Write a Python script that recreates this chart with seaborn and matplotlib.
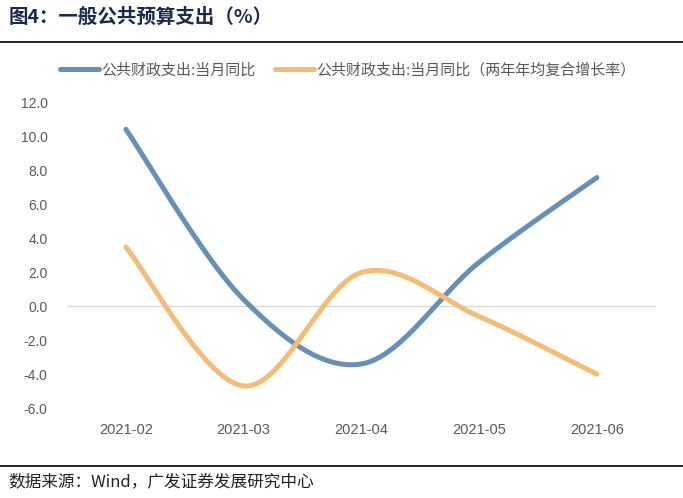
import numpy as np
import pandas as pd
import matplotlib
matplotlib.use('Agg')
import matplotlib.pyplot as plt
import seaborn as sns

# data
months = ['2021-02', '2021-03', '2021-04', '2021-05', '2021-06']
spend_yoy = [10.45, 0.4, -3.4, 2.6, 7.6]
spend_2y_cagr = [3.5, -4.7, 2.0, -0.6, -4.0]
series_names = ['公共财政支出:当月同比', '公共财政支出:当月同比（两年年均复合增长率）']
colors = ['#6690B8', '#F4BC76']

sns.set_style('white')
plt.rcParams['font.family'] = ['Liberation Sans', 'Noto Sans CJK SC', 'DejaVu Sans']


def smooth(xs, ys, n=40):
    # Excel-style smoothed line: cubic Bezier with Catmull-Rom control points
    xs = np.asarray(xs, float)
    ys = np.asarray(ys, float)
    px = np.concatenate([[xs[0]], xs, [xs[-1]]])
    py = np.concatenate([[ys[0]], ys, [ys[-1]]])
    out_x, out_y = [], []
    t = np.linspace(0, 1, n)
    for i in range(1, len(px) - 2):
        p0 = np.array([px[i], py[i]])
        p3 = np.array([px[i + 1], py[i + 1]])
        c1 = p0 + (p3 - np.array([px[i - 1], py[i - 1]])) / 6
        c2 = p3 - (np.array([px[i + 2], py[i + 2]]) - p0) / 6
        b = ((1 - t) ** 3)[:, None] * p0 + (3 * (1 - t) ** 2 * t)[:, None] * c1 \
            + (3 * (1 - t) * t ** 2)[:, None] * c2 + (t ** 3)[:, None] * p3
        out_x.extend(b[:, 0])
        out_y.extend(b[:, 1])
    return out_x, out_y


fig = plt.figure(figsize=(6.83, 4.98), dpi=100)
ax = fig.add_axes([0.0981, 0.1807, 0.862, 0.6125])

pos = np.arange(len(months))
frames = []
for name, vals in zip(series_names, [spend_yoy, spend_2y_cagr]):
    sx, sy = smooth(pos, vals)
    frames.append(pd.DataFrame({'x': sx, 'y': sy, 'series': name}))
df = pd.concat(frames, ignore_index=True)

sns.lineplot(data=df, x='x', y='y', hue='series', palette=colors, sort=False,
             linewidth=3.6, ax=ax, legend=False, solid_capstyle='round')

ax.axhline(0, color='#D9D9D9', linewidth=1, zorder=0)
ax.set_xlim(-0.5, 4.5)
ax.set_ylim(-6, 12)
ax.set_yticks(np.arange(-6, 13, 2))
ax.set_yticklabels([f'{v:.1f}' for v in np.arange(-6, 13, 2)])
ax.set_xticks(pos)
ax.set_xticklabels(months)
ax.set_xlabel('')
ax.set_ylabel('')
ax.tick_params(axis='both', length=0, colors='#595959')
ax.tick_params(axis='x', pad=11, labelsize=10.5)
ax.tick_params(axis='y', pad=14, labelsize=10)
for s in ax.spines.values():
    s.set_visible(False)

handles = [plt.Line2D([], [], color=c, linewidth=3.6, solid_capstyle='round') for c in colors]
fig.legend(handles, series_names, loc='center left', bbox_to_anchor=(0.088, 0.859),
           ncol=2, frameon=False, handlelength=2.6, handletextpad=0.15, columnspacing=1.3,
           borderaxespad=0, borderpad=0,
           prop={'family': ['Noto Sans CJK SC'], 'size': 10.8}, labelcolor='#595959')

fig.text(0.012, 0.965, '图4：一般公共预算支出（%）', fontsize=14, fontweight='bold',
         color='#1B2A4A', va='center', ha='left', family=['Noto Sans CJK SC'])
fig.add_artist(plt.Line2D([0, 1], [0.916, 0.916], color='black', linewidth=1.2))
fig.add_artist(plt.Line2D([0, 1], [0.064, 0.064], color='black', linewidth=1.2))
fig.text(0.012, 0.032, '数据来源：Wind，广发证券发展研究中心', fontsize=12,
         color='#222222', va='center', ha='left', family=['Noto Sans CJK SC', 'Liberation Sans'])

fig.savefig('out.png', dpi=100)
